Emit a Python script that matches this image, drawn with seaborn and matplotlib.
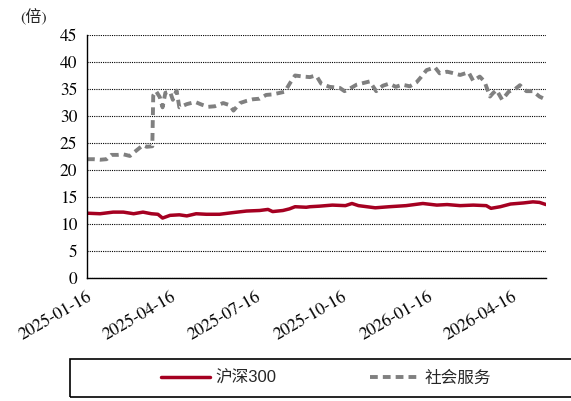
import matplotlib
matplotlib.use("Agg")
import matplotlib.pyplot as plt
from matplotlib.patches import Rectangle
import pandas as pd
import seaborn as sns

# ---------------- data ----------------
svc_dates = ["2025-01-16", "2025-01-23", "2025-01-30", "2025-02-06", "2025-02-11", "2025-02-18",
             "2025-02-24", "2025-03-03", "2025-03-07", "2025-03-12", "2025-03-17", "2025-03-21",
             "2025-03-27", "2025-03-28", "2025-03-31", "2025-04-04", "2025-04-07", "2025-04-10",
             "2025-04-15", "2025-04-18", "2025-04-22", "2025-04-25", "2025-05-03", "2025-05-12",
             "2025-05-19", "2025-05-26", "2025-06-02", "2025-06-11", "2025-06-18", "2025-06-22",
             "2025-06-29", "2025-07-06", "2025-07-13", "2025-07-20", "2025-07-27", "2025-08-03",
             "2025-08-11", "2025-08-16", "2025-08-22", "2025-08-27", "2025-09-05", "2025-09-12",
             "2025-09-16", "2025-09-19", "2025-09-24", "2025-10-03", "2025-10-14", "2025-10-19",
             "2025-10-25", "2025-11-01", "2025-11-08", "2025-11-15", "2025-11-22", "2025-11-29",
             "2025-12-06", "2025-12-13", "2025-12-20", "2025-12-28", "2026-01-04", "2026-01-09",
             "2026-01-15", "2026-01-24", "2026-01-29", "2026-02-06", "2026-02-11", "2026-02-20",
             "2026-03-01", "2026-03-06", "2026-03-13", "2026-03-18", "2026-03-24", "2026-03-27",
             "2026-03-31", "2026-04-06", "2026-04-13", "2026-04-20", "2026-04-25", "2026-05-02",
             "2026-05-09", "2026-05-16", "2026-05-22"]
svc_values = [22.0, 22.0, 21.9, 22.0, 22.8, 22.8,
              22.9, 22.6, 23.2, 23.9, 24.6, 24.3,
              24.4, 33.8, 34.6, 33.5, 31.6, 34.3,
              34.5, 33.0, 34.7, 31.6, 32.2, 32.6,
              32.1, 31.7, 31.8, 32.4, 32.0, 31.0,
              32.4, 32.8, 33.1, 33.2, 33.9, 34.0,
              34.3, 34.5, 36.2, 37.5, 37.3, 37.2,
              37.4, 37.4, 36.0, 35.4, 35.2, 34.6,
              35.1, 35.8, 36.1, 36.4, 34.6, 35.6,
              36.0, 35.4, 35.8, 35.5, 36.2, 37.2,
              38.5, 39.0, 37.9, 38.2, 38.0, 37.6,
              38.1, 36.5, 37.3, 36.4, 33.6, 34.2,
              34.8, 33.0, 34.5, 35.0, 35.7, 34.6,
              34.6, 33.6, 33.1]

hs_dates = ["2025-01-16", "2025-01-30", "2025-02-13", "2025-02-24", "2025-03-07", "2025-03-17",
            "2025-03-26", "2025-04-02", "2025-04-07", "2025-04-15", "2025-04-25", "2025-05-03",
            "2025-05-13", "2025-05-24", "2025-06-07", "2025-06-21", "2025-07-06", "2025-07-20",
            "2025-07-29", "2025-08-03", "2025-08-14", "2025-08-21", "2025-08-27", "2025-09-08",
            "2025-09-12", "2025-09-22", "2025-10-06", "2025-10-20", "2025-10-27", "2025-11-03",
            "2025-11-21", "2025-12-06", "2025-12-24", "2026-01-11", "2026-01-26", "2026-02-06",
            "2026-02-20", "2026-03-06", "2026-03-20", "2026-03-25", "2026-04-04", "2026-04-15",
            "2026-04-29", "2026-05-09", "2026-05-16", "2026-05-23"]
hs_values = [12.0, 11.9, 12.2, 12.2, 11.9, 12.2,
             11.9, 11.8, 11.1, 11.6, 11.7, 11.5,
             11.9, 11.8, 11.8, 12.1, 12.4, 12.5,
             12.7, 12.3, 12.5, 12.8, 13.2, 13.1,
             13.2, 13.3, 13.5, 13.4, 13.8, 13.4,
             13.0, 13.2, 13.4, 13.8, 13.5, 13.6,
             13.4, 13.5, 13.4, 12.9, 13.2, 13.7,
             13.9, 14.1, 14.0, 13.6]

y_ticks = [0, 5, 10, 15, 20, 25, 30, 35, 40, 45]
x_tick_labels = ["2025-01-16", "2025-04-16", "2025-07-16", "2025-10-16", "2026-01-16", "2026-04-16"]
series_names = ["沪深300", "社会服务"]
unit_label = "(倍)"

df_hs = pd.DataFrame({"date": pd.to_datetime(hs_dates), "value": hs_values})
df_svc = pd.DataFrame({"date": pd.to_datetime(svc_dates), "value": svc_values})

# ---------------- style ----------------
sns.set_theme(style="white")
plt.rcParams["font.family"] = ["STIXGeneral", "Noto Sans CJK SC"]

fig = plt.figure(figsize=(5.71, 4.01), dpi=100)
ax = fig.add_axes([87 / 571, 1 - 278 / 401, (546 - 87) / 571, (278 - 35) / 401])

red = "#A50021"
gray = "#808080"

sns.lineplot(data=df_hs, x="date", y="value", ax=ax, color=red, linewidth=2.5,
             label=series_names[0], legend=False)
sns.lineplot(data=df_svc, x="date", y="value", ax=ax, color=gray, linewidth=2.8,
             linestyle=(0, (2.0, 1.3)), label=series_names[1], legend=False)

ax.set_ylim(0, 45)
ax.set_yticks(y_ticks)
ax.set_xlim(pd.Timestamp("2025-01-16"), pd.Timestamp("2026-05-23"))
ax.set_xticks(pd.to_datetime(x_tick_labels))
ax.set_xticklabels(x_tick_labels, rotation=30, ha="right", rotation_mode="anchor")
ax.set_xlabel("")
ax.set_ylabel("")

ax.yaxis.grid(True, linestyle=(0, (1, 1)), color="black", linewidth=0.8)
ax.xaxis.grid(False)
ax.set_axisbelow(True)
for s in ["top", "right"]:
    ax.spines[s].set_visible(False)
for s in ["left", "bottom"]:
    ax.spines[s].set_color("black")
    ax.spines[s].set_linewidth(1.0)

ax.tick_params(axis="both", which="major", direction="out", length=5, width=0.8,
               color="black", labelsize=12.5, labelcolor="black", pad=2)
ax.tick_params(axis="x", pad=3)
for lbl in ax.get_xticklabels() + ax.get_yticklabels():
    lbl.set_family("STIXGeneral")

fig.text(20 / 571, 1 - 17 / 401, unit_label, fontsize=11.5, va="center", ha="left",
         family=["STIXGeneral", "Noto Sans CJK SC"])

# legend box
fig.patches.append(Rectangle((70 / 571, 1 - 397 / 401), 505 / 571, 38 / 401,
                             transform=fig.transFigure, fill=False, edgecolor="black",
                             linewidth=1.2))
handles, labels = ax.get_legend_handles_labels()
leg = fig.legend(handles, labels, loc="center", bbox_to_anchor=(326 / 571, 1 - 378 / 401),
                 ncol=2, frameon=False, handlelength=2.9, columnspacing=5.6,
                 handletextpad=0.35,
                 prop={"family": ["Liberation Sans", "Noto Sans CJK SC"], "size": 12})

fig.savefig("out.png", dpi=100)
